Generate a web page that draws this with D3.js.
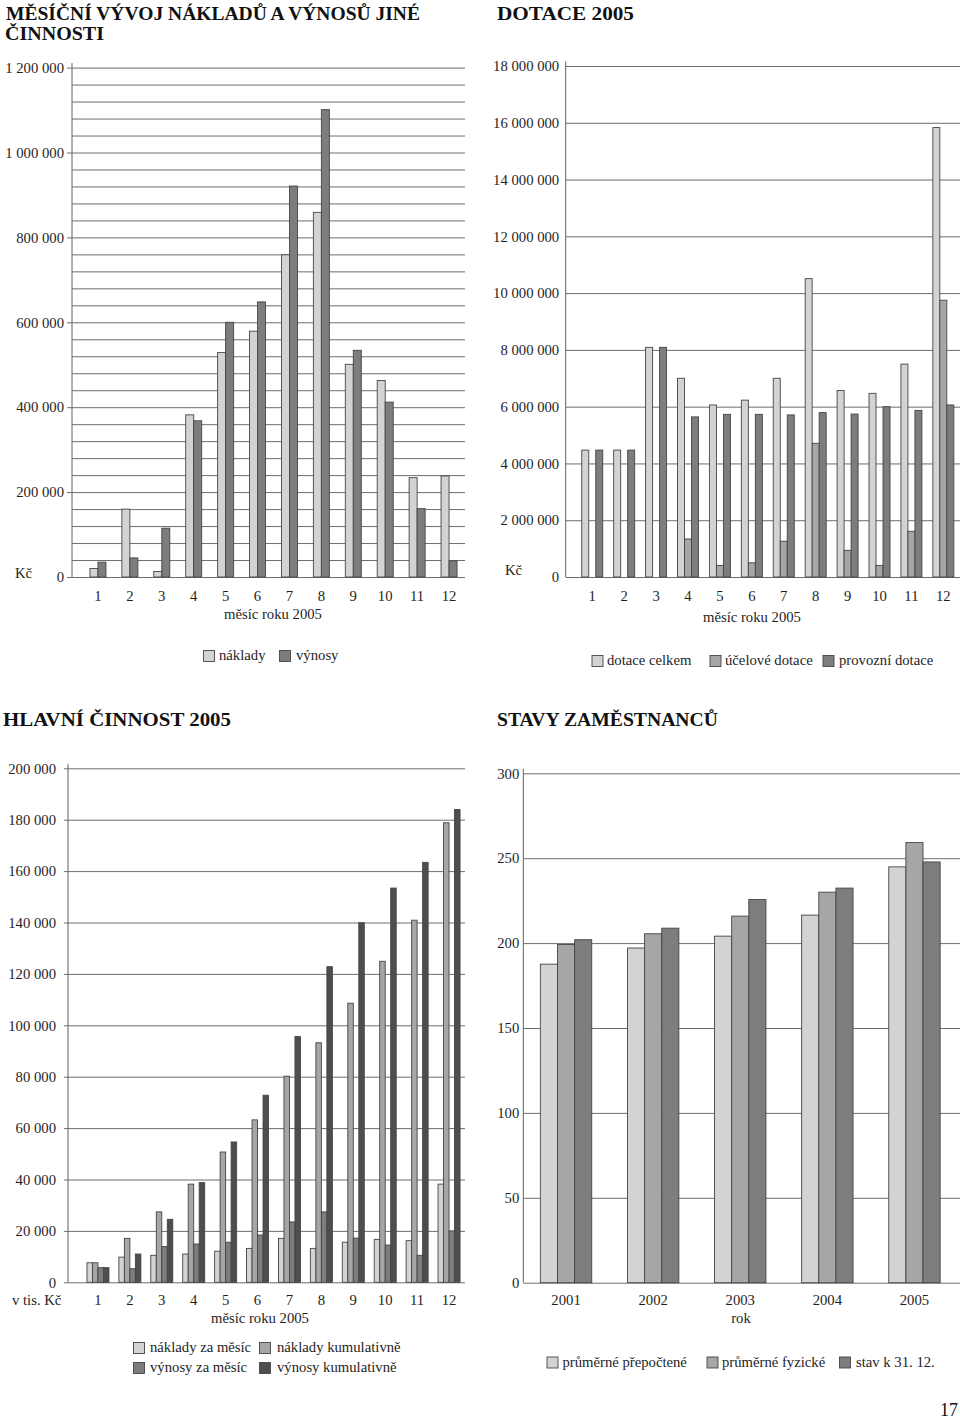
<!DOCTYPE html>
<html><head><meta charset="utf-8">
<script src="https://cdn.jsdelivr.net/npm/d3@7"></script>
<style>
body{margin:0;background:#fff}
svg{display:block;font-family:"Liberation Serif","DejaVu Serif",serif}
</style></head><body>
<svg id="c" width="960" height="1420"></svg>
<script>
// ---------- DATA ----------
const months = ["1","2","3","4","5","6","7","8","9","10","11","12"];

// Chart 1: Měsíční vývoj nákladů a výnosů jiné činnosti (Kč)
const naklady1 = [20000,160000,13000,382000,529000,579000,759000,859000,501000,463000,234000,238000];
const vynosy1  = [35000,45000,115000,368000,600000,648000,921000,1101000,534000,412000,161000,38000];
const ticks1 = [0,200000,400000,600000,800000,1000000,1200000];
const tickLabels1 = ["0","200 000","400 000","600 000","800 000","1 000 000","1 200 000"];
const grid1 = d3.range(0,1200001,40000);
const legend1 = ["náklady","výnosy"];

// Chart 2: Dotace 2005 (Kč)
const dotaceCelkem = [4470000,4470000,8090000,7000000,6060000,6230000,7000000,10510000,6570000,6470000,7500000,15830000];
const ucelove      = [0,0,0,1340000,410000,500000,1260000,4710000,940000,410000,1610000,9750000];
const provozni     = [4470000,4470000,8090000,5640000,5730000,5730000,5710000,5790000,5740000,6000000,5870000,6060000];
const ticks2 = [0,2000000,4000000,6000000,8000000,10000000,12000000,14000000,16000000,18000000];
const tickLabels2 = ["0","2 000 000","4 000 000","6 000 000","8 000 000","10 000 000","12 000 000","14 000 000","16 000 000","18 000 000"];
const legend2 = ["dotace celkem","účelové dotace","provozní dotace"];

// Chart 3: Hlavní činnost 2005 (v tis. Kč)
const nakladyMesic = [7600,9800,10500,11000,12100,13200,17100,13200,15600,16700,16200,38200];
const nakladyKum   = [7600,17100,27400,38200,50700,63200,80200,93200,108600,124900,140900,178800];
const vynosyMesic  = [5700,5300,13900,14900,15600,18400,23500,27400,17200,14500,10500,20000];
const vynosyKum    = [5700,11000,24500,38800,54600,72800,95600,122800,139900,153400,163400,184000];
const ticks3 = d3.range(0,200001,20000);
const tickLabels3 = ["0","20 000","40 000","60 000","80 000","100 000","120 000","140 000","160 000","180 000","200 000"];
const legend3 = ["náklady za měsíc","náklady kumulativně","výnosy za měsíc","výnosy kumulativně"];

// Chart 4: Stavy zaměstnanců
const years = ["2001","2002","2003","2004","2005"];
const prumPrepoctene = [187.6,197.1,204.1,216.5,244.9];
const prumFyzicke    = [199.2,205.5,215.9,230.0,259.2];
const stavKonec      = [202,208.8,225.7,232.4,247.8];
const ticks4 = [0,50,100,150,200,250,300];
const tickLabels4 = ["0","50","100","150","200","250","300"];
const legend4 = ["průměrné přepočtené","průměrné fyzické","stav k 31. 12."];

const titles = ["MĚSÍČNÍ VÝVOJ NÁKLADŮ A VÝNOSŮ JINÉ","ČINNOSTI","DOTACE 2005","HLAVNÍ ČINNOST 2005","STAVY ZAMĚSTNANCŮ"];

// ---------- STYLE ----------
const C_LIGHT = "#d3d3d3", C_MED = "#a6a6a6", C_DARK = "#7d7d7d", C_DARKEST = "#4e4e4e";
const FONT = '"Liberation Serif","DejaVu Serif",serif';
const FS = 14.7;
const TXT = "#1e1e1e";
const GRID = "#6e6e6e";
const OUTLINE = "#454545";

const svg = d3.select("#c");
svg.append("rect").attr("width",960).attr("height",1420).attr("fill","#fff");

function chart(o){
  const g = svg.append("g");
  const y = d3.scaleLinear().domain([0,o.max]).range([o.y0,o.yTop]);
  const x = d3.scaleBand().domain(o.cats).range(o.xRange);
  const inner = d3.scaleBand().domain(d3.range(o.series.length)).range([0,o.groupW]);

  // gridlines
  const grid = g.append("g").attr("transform",`translate(${o.axisX},0)`)
    .call(d3.axisLeft(y).tickValues(o.grid).tickSize(-(o.gridRight-o.axisX)).tickFormat(""));
  grid.select(".domain").remove();
  grid.selectAll("line").attr("stroke",GRID).attr("stroke-width",1);

  // y labels
  const ax = g.append("g").attr("transform",`translate(${o.axisX},0)`)
    .call(d3.axisLeft(y).tickValues(o.ticks).tickSize(o.stub).tickPadding(o.pad)
      .tickFormat((d,i)=>o.tickLabels[i]));
  ax.attr("font-family",FONT).attr("font-size",FS);
  ax.select(".domain").remove();
  ax.selectAll("line").attr("stroke",GRID);
  ax.selectAll("text").attr("fill",TXT);

  // y axis line
  g.append("line").attr("x1",o.axisX).attr("x2",o.axisX)
    .attr("y1",o.y0).attr("y2",o.yTop-4.5).attr("stroke","#606060").attr("stroke-width",1);

  // bars
  const off = (x.bandwidth()-o.groupW)/2;
  o.series.forEach((s,si)=>{
    g.append("g").selectAll("rect")
      .data(s.values.map((v,i)=>({v,c:o.cats[i]})).filter(d=>d.v>0))
      .join("rect")
      .attr("x",d=>x(d.c)+off+inner(si))
      .attr("width",inner.bandwidth())
      .attr("y",d=>y(d.v))
      .attr("height",d=>o.y0-y(d.v))
      .attr("fill",s.color).attr("stroke",OUTLINE).attr("stroke-width",0.9);
  });

  // x labels
  const xa = g.append("g").attr("transform",`translate(0,${o.y0})`)
    .call(d3.axisBottom(x).tickSize(0).tickPadding(o.xPad));
  xa.attr("font-family",FONT).attr("font-size",FS);
  xa.select(".domain").remove();
  xa.selectAll("text").attr("fill",TXT);

  // x title
  g.append("text").attr("x",o.xTitle[0]).attr("y",o.xTitle[1]).attr("text-anchor","middle")
    .attr("font-size",FS).attr("fill",TXT).text(o.xTitleText);

  // unit
  if(o.unit) g.append("text").attr("x",o.unit[0]).attr("y",o.unit[1])
    .attr("font-size",FS).attr("fill",TXT).text(o.unitText);

  // legend
  o.legend.forEach((L,i)=>{
    g.append("rect").attr("x",L[0]).attr("y",L[1]).attr("width",11).attr("height",11)
      .attr("fill",o.series[L[4]].color).attr("stroke",OUTLINE).attr("stroke-width",0.9);
    g.append("text").attr("x",L[2]).attr("y",L[3]).attr("font-size",FS).attr("fill",TXT)
      .text(o.legendLabels[i]);
  });
}

// Titles
function title(t,x,y,len){
  svg.append("text").attr("x",x).attr("y",y).attr("font-size",19).attr("font-weight","bold")
    .attr("fill","#111").attr("textLength",len).attr("lengthAdjust","spacingAndGlyphs").text(t);
}
title(titles[0],6,20,414);
title(titles[1],5,40,99);
title(titles[2],497,20,137);
title(titles[3],3,726,228);
title(titles[4],497,726,221);

// Chart 1
chart({
  max:1200000, y0:577, yTop:67.6, axisX:72, gridRight:465, xRange:[82,465], groupW:16,
  grid:grid1, ticks:ticks1, tickLabels:tickLabels1, stub:5, pad:3, xPad:13.5, cats:months,
  series:[{values:naklady1,color:C_LIGHT},{values:vynosy1,color:C_DARK}],
  xTitle:[273,619], xTitleText:"měsíc roku 2005",
  unit:[15,578], unitText:"Kč",
  legend:[[203.5,650.5,219,660,0],[279.5,650.5,296,660,1]], legendLabels:legend1
});

// Chart 2
chart({
  max:18000000, y0:577, yTop:66, axisX:565.7, gridRight:960, xRange:[576.3,959.3], groupW:21,
  grid:ticks2, ticks:ticks2, tickLabels:tickLabels2, stub:0, pad:6.5, xPad:13.5, cats:months,
  series:[{values:dotaceCelkem,color:C_LIGHT},{values:ucelove,color:C_MED},{values:provozni,color:C_DARK}],
  xTitle:[752,622], xTitleText:"měsíc roku 2005",
  unit:[505,575], unitText:"Kč",
  legend:[[592,655.5,607,665,0],[710,655.5,725,665,1],[823,655.5,839,665,2]], legendLabels:legend2
});

// Chart 3
chart({
  max:200000, y0:1282.3, yTop:768.3, axisX:68, gridRight:465, xRange:[82,465], groupW:22,
  grid:ticks3, ticks:ticks3, tickLabels:tickLabels3, stub:4, pad:8, xPad:12.5, cats:months,
  series:[{values:nakladyMesic,color:C_LIGHT},{values:nakladyKum,color:C_MED},
          {values:vynosyMesic,color:C_DARK},{values:vynosyKum,color:C_DARKEST}],
  xTitle:[260,1323], xTitleText:"měsíc roku 2005",
  unit:[12,1305], unitText:"v tis. Kč",
  legend:[[133.5,1342.5,150,1352,0],[259.5,1342.5,277,1352,1],[133.5,1362.5,150,1372,2],[259.5,1362.5,277,1372,3]],
  legendLabels:legend3
});

// Chart 4
chart({
  max:300, y0:1282.7, yTop:773.3, axisX:523.3, gridRight:960, xRange:[522.5,958], groupW:51.4,
  grid:ticks4, ticks:ticks4, tickLabels:tickLabels4, stub:0, pad:4, xPad:12, cats:years,
  series:[{values:prumPrepoctene,color:C_LIGHT},{values:prumFyzicke,color:C_MED},{values:stavKonec,color:C_DARK}],
  xTitle:[741,1323], xTitleText:"rok",
  legend:[[547,1357,562.5,1367,0],[707,1357,722,1367,1],[839.5,1357,856,1367,2]], legendLabels:legend4
});

// page number
svg.append("text").attr("x",958).attr("y",1416).attr("text-anchor","end")
  .attr("font-size",18).attr("fill","#111").text("17");
</script>
</body></html>
